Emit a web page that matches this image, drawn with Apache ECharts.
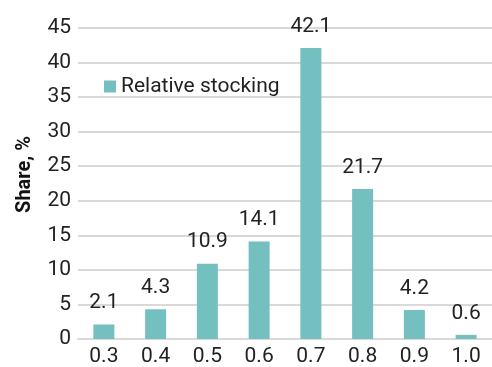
<!DOCTYPE html>
<html>
<head>
<meta charset="utf-8">
<script src="https://cdn.jsdelivr.net/npm/echarts@6/dist/echarts.min.js"></script>
<style>
  html, body { margin: 0; padding: 0; background: #fff; }
  #chart { width: 492px; height: 367px; }
</style>
</head>
<body>
<div id="chart"></div>
<script>
// data
const categories = ['0.3', '0.4', '0.5', '0.6', '0.7', '0.8', '0.9', '1.0'];
const shares = [2.1, 4.3, 10.9, 14.1, 42.1, 21.7, 4.2, 0.6];
const seriesName = 'Relative stocking';

document.addEventListener("DOMContentLoaded", () => {
  echarts.init(document.querySelector("#chart")).setOption({
    animation: false,
    textStyle: { fontFamily: 'Roboto' },
    grid: { left: 78, right: -2, top: 28, bottom: 27 },
    legend: {
      data: [seriesName],
      left: 99,
      top: 71,
      icon: 'rect',
      itemWidth: 12,
      itemHeight: 12,
      itemGap: 5,
      textStyle: { fontSize: 21, color: '#222', fontFamily: 'Roboto' }
    },
    xAxis: {
      type: 'category',
      data: categories,
      axisTick: { show: false },
      axisLine: { lineStyle: { color: '#d9d9d9', width: 2 } },
      axisLabel: { fontSize: 21, color: '#222', margin: 7 }
    },
    yAxis: {
      type: 'value',
      min: 0,
      max: 45,
      interval: 5,
      name: 'Share, %',
      nameLocation: 'middle',
      nameGap: 43,
      nameTextStyle: { fontSize: 20, fontWeight: 'bold', color: '#111', padding: [0, 0, 0, 18] },
      axisLabel: { fontSize: 21, color: '#222', margin: 7 },
      splitLine: { lineStyle: { color: '#d9d9d9', width: 2 } }
    },
    series: [{
      name: seriesName,
      type: 'bar',
      data: shares,
      barWidth: 21,
      itemStyle: { color: '#74bfc0' },
      label: {
        show: true,
        position: 'top',
        distance: 11,
        fontSize: 21,
        color: '#222'
      }
    }]
  })
})
</script>
</body>
</html>
